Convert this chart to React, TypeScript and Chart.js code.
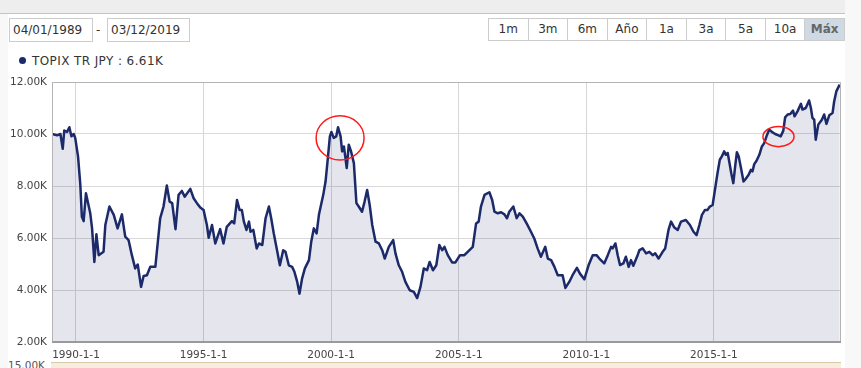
import React, { useEffect, useRef } from "react";
import { Chart, registerables } from "chart.js";

Chart.register(...registerables);

// ---- data (decimal year, index value) ----
const dates: number[] = [
  1989.06, 1989.26, 1989.39, 1989.48, 1989.54, 1989.65, 1989.74, 1989.82, 1989.91, 1989.97,
  1990.08, 1990.17, 1990.23, 1990.30, 1990.39, 1990.56, 1990.63, 1990.72, 1990.80, 1990.89,
  1991.08, 1991.15, 1991.31, 1991.48, 1991.63, 1991.80, 1991.93, 1992.06, 1992.19, 1992.32,
  1992.42, 1992.55, 1992.65, 1992.78, 1992.91, 1993.11, 1993.30, 1993.43, 1993.56, 1993.67,
  1993.77, 1993.90, 1994.02, 1994.15, 1994.26, 1994.48, 1994.61, 1994.74, 1994.87, 1995.00,
  1995.13, 1995.20, 1995.33, 1995.46, 1995.65, 1995.78, 1995.91, 1996.11, 1996.20, 1996.31,
  1996.41, 1996.50, 1996.58, 1996.68, 1996.78, 1996.84, 1996.95, 1997.08, 1997.17, 1997.30,
  1997.43, 1997.56, 1997.65, 1997.75, 1997.89, 1997.99, 1998.12, 1998.21, 1998.34, 1998.47,
  1998.56, 1998.67, 1998.76, 1998.86, 1998.97, 1999.13, 1999.22, 1999.32, 1999.43, 1999.52,
  1999.69, 1999.78, 1999.87, 1999.95, 2000.01, 2000.10, 2000.20, 2000.27, 2000.37, 2000.43,
  2000.50, 2000.56, 2000.61, 2000.69, 2000.78, 2000.89, 2000.99, 2001.08, 2001.21, 2001.31,
  2001.41, 2001.51, 2001.61, 2001.74, 2001.87, 2002.00, 2002.10, 2002.26, 2002.43, 2002.52,
  2002.65, 2002.78, 2002.91, 2003.08, 2003.24, 2003.37, 2003.50, 2003.63, 2003.76, 2003.86,
  2003.99, 2004.12, 2004.24, 2004.35, 2004.44, 2004.57, 2004.74, 2004.87, 2005.05, 2005.22,
  2005.35, 2005.55, 2005.68, 2005.78, 2005.87, 2006.01, 2006.20, 2006.31, 2006.40, 2006.53,
  2006.66, 2006.79, 2006.89, 2006.98, 2007.14, 2007.27, 2007.38, 2007.51, 2007.66, 2007.83,
  2007.96, 2008.09, 2008.22, 2008.39, 2008.49, 2008.62, 2008.75, 2008.88, 2009.07, 2009.18,
  2009.33, 2009.46, 2009.63, 2009.75, 2009.92, 2010.09, 2010.25, 2010.40, 2010.51, 2010.70,
  2010.84, 2010.97, 2011.03, 2011.14, 2011.23, 2011.32, 2011.45, 2011.55, 2011.66, 2011.75,
  2011.84, 2012.01, 2012.08, 2012.21, 2012.34, 2012.47, 2012.60, 2012.70, 2012.83, 2012.99,
  2013.09, 2013.22, 2013.32, 2013.45, 2013.58, 2013.71, 2013.90, 2014.06, 2014.20, 2014.32,
  2014.43, 2014.53, 2014.65, 2014.75, 2014.84, 2014.95, 2015.05, 2015.14, 2015.23, 2015.31,
  2015.40, 2015.47, 2015.54, 2015.60, 2015.68, 2015.76, 2015.84, 2015.90, 2015.97, 2016.06,
  2016.16, 2016.25, 2016.36, 2016.45, 2016.51, 2016.58, 2016.67, 2016.78, 2016.88, 2016.97,
  2017.06, 2017.17, 2017.27, 2017.40, 2017.53, 2017.62, 2017.72, 2017.79, 2017.89, 2017.99,
  2018.10, 2018.16, 2018.28, 2018.41, 2018.47, 2018.60, 2018.73, 2018.80, 2018.86, 2018.93,
  2018.99, 2019.09, 2019.23, 2019.32, 2019.41, 2019.52, 2019.65, 2019.71, 2019.80, 2019.93,
];

const values: number[] = [
  10000, 9950, 10000, 9430, 10130, 10080, 10260, 9910, 10000, 9850,
  9140, 8040, 6820, 6650, 7720, 6950, 6370, 5080, 6140, 5340,
  5470, 6500, 7210, 6890, 6370, 6910, 6050, 5920, 5340, 4830,
  4980, 4120, 4540, 4570, 4890, 4890, 6760, 7210, 8020, 7400,
  7340, 6340, 7660, 7810, 7590, 7890, 7530, 7340, 7170, 7080,
  6500, 6010, 6500, 5790, 6340, 5790, 6430, 6650, 6560, 7460,
  7080, 7080, 6630, 6310, 6630, 6240, 6310, 5600, 5790, 5730,
  6760, 7210, 6760, 6180, 5470, 4950, 5530, 5470, 4950, 4890,
  4700, 4310, 3860, 4440, 4830, 5150, 5860, 6370, 6180, 6890,
  7660, 8170, 9070, 9910, 10080, 9850, 9910, 10260, 9910, 9330,
  9520, 9070, 8690, 9590, 9330, 8880, 7340, 7210, 7010, 7400,
  7850, 7270, 6500, 5860, 5790, 5530, 5210, 5660, 5920, 5410,
  4950, 4700, 4310, 3990, 3930, 3690, 4120, 4830, 4760, 5080,
  4760, 4950, 5730, 5530, 5660, 5340, 5060, 5060, 5340, 5340,
  5470, 5660, 6560, 6630, 7210, 7660, 7760, 7460, 7010, 6950,
  6990, 6910, 6760, 7010, 7210, 6760, 6950, 6820, 6560, 6240,
  5980, 5600, 5280, 5660, 5210, 5150, 4890, 4570, 4570, 4080,
  4310, 4570, 4850, 4630, 4410, 4960, 5340, 5340, 5210, 5020,
  5340, 5660, 5600, 5790, 5340, 4960, 5020, 5280, 4890, 5150,
  4930, 5340, 5530, 5600, 5410, 5470, 5340, 5410, 5210, 5470,
  5600, 6310, 6630, 6400, 6310, 6630, 6690, 6500, 6240, 6110,
  6500, 6890, 7080, 7080, 7210, 7270, 7920, 8490, 9010, 9140,
  9330, 9200, 9270, 8940, 8490, 8110, 8820, 9300, 9140, 8690,
  8170, 8280, 8430, 8620, 8560, 8840, 8970, 9200, 9520, 9650,
  9910, 10170, 10080, 10000, 9950, 9910, 10130, 10640, 10750, 10770,
  10900, 10680, 10880, 11160, 10940, 11000, 11290, 11000, 10620, 10550,
  9780, 10360, 10550, 10750, 10390, 10720, 10810, 11240, 11650, 11900,
];

const xTickYears: number[] = [1990, 1995, 2000, 2005, 2010, 2015];
const yTickValues: number[] = [2000, 4000, 6000, 8000, 10000, 12000];

const rangeButtons: string[] = ["1m", "3m", "6m", "Año", "1a", "3a", "5a", "10a", "Máx"];
const startDate = "04/01/1989";
const endDate = "03/12/2019";
const seriesName = "TOPIX TR JPY";
const legendValue = "6.61K";

// hand-drawn red marks (centre year, centre value, radius in years, radius in value)
const markX: number[] = [2000.35, 2017.53];
const markY: number[] = [9850, 9900];
const markRX: number[] = [0.94, 0.61];
const markRY: number[] = [850, 386];

const FONT = "'DejaVu Sans', Verdana, sans-serif";

export default function App() {
  const canvasRef = useRef<HTMLCanvasElement | null>(null);

  useEffect(() => {
    if (!canvasRef.current) return;

    const borderPlugin = {
      id: "plotBorder",
      afterDatasetsDraw(chart: any) {
        const { ctx, chartArea } = chart;
        const { left, right, top, bottom } = chartArea;
        ctx.save();
        ctx.strokeStyle = "#b4b4b4";
        ctx.lineWidth = 1;
        ctx.beginPath();
        ctx.moveTo(left + 0.5, bottom);
        ctx.lineTo(left + 0.5, top + 0.5);
        ctx.lineTo(right - 0.5, top + 0.5);
        ctx.lineTo(right - 0.5, bottom);
        ctx.stroke();
        ctx.strokeStyle = "#9a9a9a";
        ctx.lineWidth = 2;
        ctx.beginPath();
        ctx.moveTo(left, bottom);
        ctx.lineTo(right, bottom);
        ctx.stroke();
        ctx.restore();
      },
    };

    const marksPlugin = {
      id: "redMarks",
      afterDatasetsDraw(chart: any) {
        const { ctx } = chart;
        const xs = chart.scales.x;
        const ys = chart.scales.y;
        ctx.save();
        ctx.strokeStyle = "#ff1a1a";
        ctx.lineWidth = 1.5;
        for (let i = 0; i < markX.length; i++) {
          const cx = xs.getPixelForValue(markX[i]);
          const cy = ys.getPixelForValue(markY[i]);
          const rx = Math.abs(xs.getPixelForValue(markX[i] + markRX[i]) - cx);
          const ry = Math.abs(ys.getPixelForValue(markY[i] + markRY[i]) - cy);
          ctx.beginPath();
          ctx.ellipse(cx, cy, rx, ry, 0, 0, Math.PI * 2);
          ctx.stroke();
        }
        ctx.restore();
      },
    };

    const chart = new Chart(canvasRef.current, {
      type: "line",
      data: {
        datasets: [
          {
            label: seriesName,
            data: dates.map((d, i) => ({ x: d, y: values[i] })),
            borderColor: "#1c2a6a",
            borderWidth: 2.5,
            backgroundColor: "rgba(30, 45, 110, 0.12)",
            fill: "start",
            pointRadius: 0,
            tension: 0,
            borderJoinStyle: "round",
          },
        ],
      },
      options: {
        animation: false,
        responsive: false,
        maintainAspectRatio: false,
        layout: { padding: { top: 16, right: 20, left: 0, bottom: 0 } },
        plugins: { legend: { display: false }, tooltip: { enabled: false } },
        scales: {
          x: {
            type: "linear",
            min: 1989.06,
            max: 2019.98,
            afterBuildTicks: (s: any) => {
              s.ticks = xTickYears.map((v) => ({ value: v }));
            },
            afterFit: (s: any) => {
              s.height = 26;
            },
            ticks: {
              autoSkip: false,
              maxRotation: 0,
              padding: 7,
              color: "#444",
              font: { family: FONT, size: 10.5 },
              callback: (v: any) => `${v}-1-1`,
            },
            grid: { color: "#d6d6d6", drawTicks: false },
            border: { display: false },
          },
          y: {
            min: 2000,
            max: 12000,
            afterBuildTicks: (s: any) => {
              s.ticks = yTickValues.map((v) => ({ value: v }));
            },
            afterFit: (s: any) => {
              s.width = 52;
            },
            ticks: {
              padding: 5,
              color: "#444",
              font: { family: FONT, size: 10.5 },
              callback: (v: any) => (Number(v) / 1000).toFixed(2) + "K",
            },
            grid: { color: "#d9d9d9", drawTicks: false },
            border: { display: false },
          },
        },
      },
      plugins: [borderPlugin, marksPlugin],
    } as any);

    return () => chart.destroy();
  }, []);

  const btnW = 356 / rangeButtons.length;

  return (
    <div
      style={{
        position: "fixed",
        left: 0,
        top: 0,
        width: 861,
        height: 368,
        overflow: "hidden",
        background: "#f8f8f8",
        fontFamily: FONT,
      }}
    >
      <div style={{ position: "absolute", left: 8, top: 0, width: 837, height: 368, background: "#ffffff" }} />
      <div
        style={{
          position: "absolute",
          left: 0,
          top: 0,
          width: 845,
          height: 13,
          background: "#eeeeee",
          borderBottom: "1px solid #c4c4c4",
        }}
      />
      {/* date inputs */}
      <div
        style={{
          position: "absolute",
          left: 9,
          top: 18,
          width: 84,
          height: 24,
          boxSizing: "border-box",
          border: "1px solid #cccccc",
          fontSize: 12,
          lineHeight: "22px",
          paddingLeft: 3,
          color: "#333",
          background: "#fff",
        }}
      >
        {startDate}
      </div>
      <div style={{ position: "absolute", left: 96, top: 18, fontSize: 12, lineHeight: "24px", color: "#333" }}>-</div>
      <div
        style={{
          position: "absolute",
          left: 107,
          top: 18,
          width: 83,
          height: 24,
          boxSizing: "border-box",
          border: "1px solid #cccccc",
          fontSize: 12,
          lineHeight: "22px",
          paddingLeft: 3,
          color: "#333",
          background: "#fff",
        }}
      >
        {endDate}
      </div>
      {/* range buttons */}
      {rangeButtons.map((b, i) => {
        const active = i === rangeButtons.length - 1;
        return (
          <div
            key={b}
            style={{
              position: "absolute",
              left: 488 + i * btnW,
              top: 18,
              width: btnW + 1,
              height: 23,
              boxSizing: "border-box",
              border: "1px solid #cccccc",
              background: active ? "#cfd9e3" : "#ffffff",
              color: active ? "#666666" : "#333333",
              fontWeight: active ? "bold" : "normal",
              fontSize: 12,
              lineHeight: "21px",
              textAlign: "center",
            }}
          >
            {b}
          </div>
        );
      })}
      {/* legend */}
      <div
        style={{
          position: "absolute",
          left: 19,
          top: 57,
          width: 7,
          height: 7,
          borderRadius: "50%",
          background: "#1c2a6a",
        }}
      />
      <div
        style={{
          position: "absolute",
          left: 32,
          top: 53,
          fontSize: 12,
          letterSpacing: 0.4,
          lineHeight: "16px",
          color: "#333",
          whiteSpace: "nowrap",
        }}
      >
        {seriesName} : {legendValue}
      </div>
      {/* navigator strip (cut off) */}
      <div
        style={{
          position: "absolute",
          left: 51,
          top: 362,
          width: 790,
          height: 10,
          background: "#f6eddf",
          borderTop: "1px solid #d9c8aa",
        }}
      />
      <div style={{ position: "absolute", left: 8, top: 359, fontSize: 10.5, color: "#555", lineHeight: "13px" }}>15.00K</div>
      <canvas
        ref={canvasRef}
        width={861}
        height={302}
        style={{ position: "absolute", left: 0, top: 66, width: 861, height: 302 }}
      />
    </div>
  );
}
